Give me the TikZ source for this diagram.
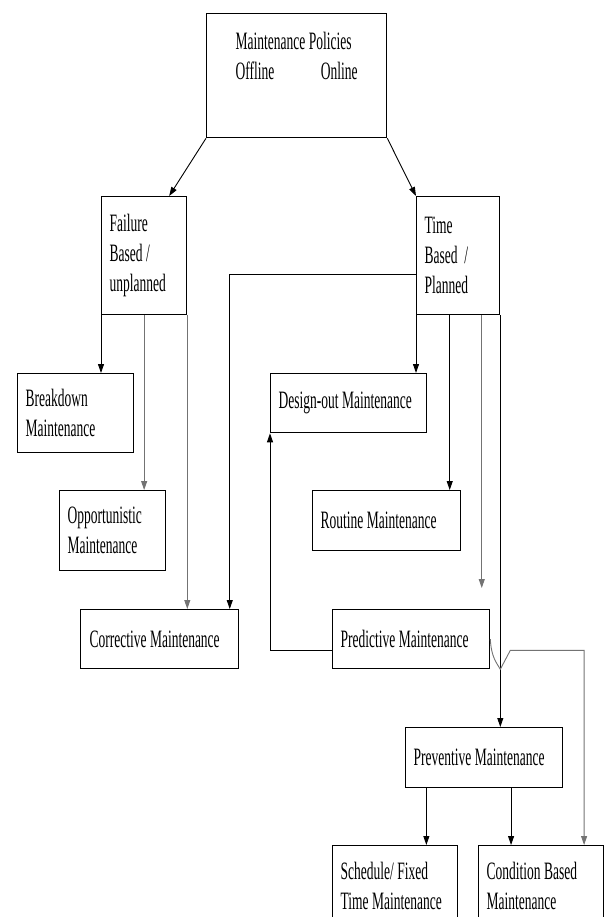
\documentclass[tikz,border=0pt]{standalone}
\usepackage{fontspec}
\setmainfont{Liberation Serif}[FakeStretch=0.54]
\usetikzlibrary{arrows.meta, calc}
\hyphenpenalty=10000
\exhyphenpenalty=10000

\tikzset{
	box/.style={draw, line width=1.3pt, anchor=north west, align=flush left, inner ysep=0pt,
		font=\fontsize{25}{30}\selectfont},
	link/.style={line width=0.9pt, -{Triangle[length=9pt,width=6pt]}},
	faint/.style={link, draw=black!55},
}

\begin{document}
\begin{tikzpicture}[x=1pt, y=-1pt]
	\useasboundingbox (0,0) rectangle (604,917);
	\clip (0,0) rectangle (604,917);
	\node (MP) [box, text width=122, inner xsep=29, minimum height=124] at (206,13)
		{Maintenance Policies\\Offline\hfill Online\\[10pt]\mbox{}};
	\node (FB) [box, text width=69, inner xsep=8, minimum height=118] at (101,196)
		{Failure\\Based /\\unplanned};
	\node (TB) [box, text width=67, inner xsep=8, minimum height=118] at (416,196)
		{Time\\Based~ /\\Planned};
	\node (BM) [box, text width=100, inner xsep=8, minimum height=79] at (17,373)
		{Breakdown\\Maintenance};
	\node (OM) [box, text width=90, inner xsep=8, minimum height=80] at (59,490)
		{Opportunistic\\Maintenance};
	\node (CM) [box, text width=140, inner xsep=9, minimum height=59] at (80,609)
		{Corrective Maintenance};
	\node (DM) [box, text width=140, inner xsep=8, minimum height=59] at (270,373)
		{Design-out Maintenance};
	\node (RM) [box, text width=132, inner xsep=8, minimum height=60] at (312,490)
		{Routine Maintenance};
	\node (PM) [box, text width=141, inner xsep=8, minimum height=59] at (332,609)
		{Predictive Maintenance};
	\node (PV) [box, text width=141, inner xsep=8, minimum height=60] at (405,727)
		{Preventive Maintenance};
	\node (ST) [box, text width=109, inner xsep=8, minimum height=80] at (332,845)
		{Schedule/ Fixed\\Time Maintenance};
	\node (CB) [box, text width=109, inner xsep=8, minimum height=80] at (478,845)
		{Condition Based\\Maintenance};

	\coordinate (K) at ($(TB.north west)!0.66!(TB.south west)$);
	\coordinate (L) at ($(PM.north west)!0.68!(PM.south west)$);
	\coordinate (T1) at ($(TB.south west)!0.4!(TB.south east)$);
	\coordinate (T2) at ($(TB.south west)!0.78!(TB.south east)$);
	\coordinate (E) at (481,588);
	\coordinate (H) at (TB.south east |- PM.south);
	\coordinate (P1) at ($(PV.south west)!0.135!(PV.south east)$);
	\coordinate (P2) at ($(PV.south west)!0.67!(PV.south east)$);

	\draw[link] (MP.south west) -- ($(FB.north west)!0.79!(FB.north east)$);
	\draw[link] (MP.south east) -- (TB.north west);
	\draw[link] (K) -| ($(CM.north west)!0.94!(CM.north east)$);
	\draw[link] (FB.south west) -- (FB.south west |- BM.north);
	\draw[faint] (FB.south) -- (FB.south |- OM.north);
	\draw[faint] (FB.south east) -- (FB.south east |- CM.north);
	\draw[link] (TB.south west) -- (TB.south west |- DM.north);
	\draw[link] (T1) -- (T1 |- RM.north);
	\draw[faint] (T2) -- (T2 |- E);
	\draw[link] (TB.south east) -- (TB.south east |- PV.north);
	\draw[link] (L) -| (DM.south west);
	\draw[faint] (PM.east) .. controls +(1,18) and +(-4,-7) .. (H)
		-- ++(10,-19) -| ($(CB.north west)!0.84!(CB.north east)$);
	\draw[link] (P1) -- (P1 |- ST.north);
	\draw[link] (P2) -- (P2 |- CB.north);
\end{tikzpicture}
\end{document}
